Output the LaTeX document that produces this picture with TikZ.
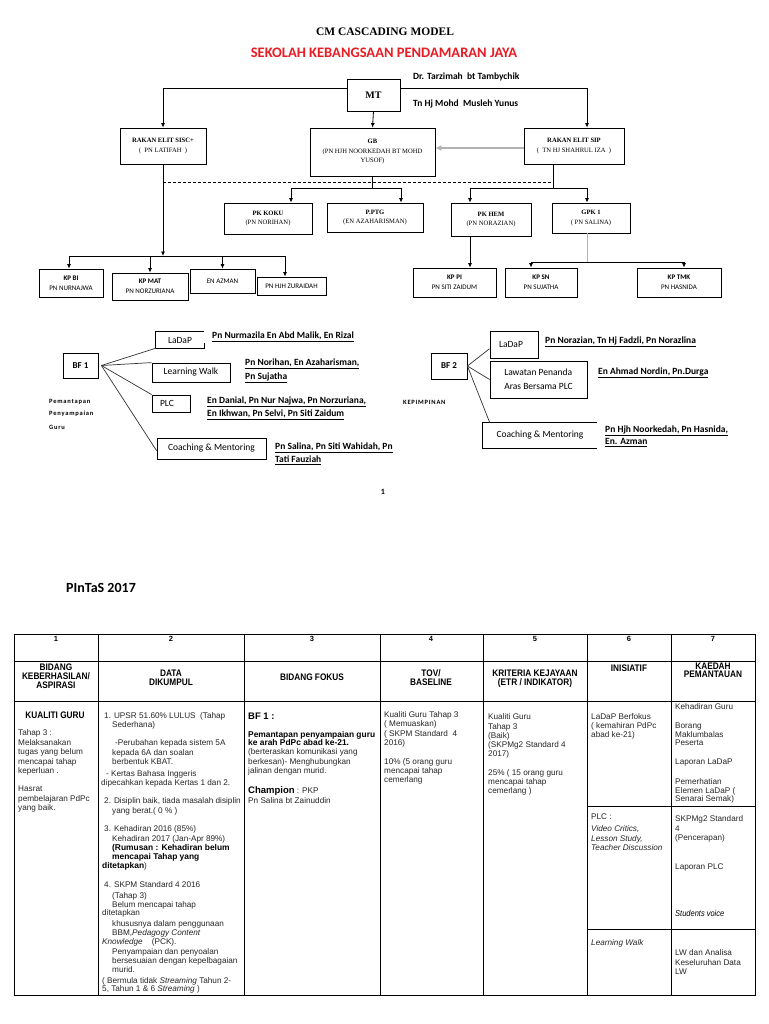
\documentclass[tikz,border=0pt]{standalone}
\usepackage{fontspec}
\setmainfont{Liberation Serif}
\newfontfamily\calib{Carlito}
\newfontfamily\calibsp[LetterSpace=12]{Carlito}
\newfontfamily\arialf{Liberation Sans}
\newfontfamily\arialn[FakeStretch=0.87]{Liberation Sans}
\usetikzlibrary{arrows.meta,calc}
\definecolor{tred}{RGB}{232,28,36}
\newcounter{txc}
\newcommand\tx[4][]{\stepcounter{txc}\node[tline,#1] (tx\arabic{txc}) at (#2,#3) {#4};}
\begin{document}
\begin{tikzpicture}[x=1pt,y=-1pt,
  box/.style={draw,line width=0.8pt,inner sep=1pt,align=center},
  arr/.style={line width=0.8pt,-{Latex[length=4.5pt,width=4pt]}},
  ln/.style={line width=0.8pt},
  fan/.style={line width=0.7pt,black!80},
  tline/.style={anchor=base west,inner sep=0pt,yshift=-2.5pt},
  ctext/.style={inner sep=0pt,align=center},
  tsz/.style={font=\fontsize{6.6}{9.5}\selectfont},
  kpf/.style={font=\calib\fontsize{7}{10}\selectfont},
  bfl/.style={font=\calib\fontsize{9.5}{14}\selectfont},
  nmf/.style={font=\calib\bfseries\fontsize{9.5}{11}\selectfont},
  smf/.style={font=\calibsp\bfseries\fontsize{6.5}{8}\selectfont},
  bodyt/.style={font=\arialf\fontsize{8.2}{9.3}\selectfont,text=black!85},
  bb/.style={font=\arialf\bfseries\fontsize{8.4}{9}\selectfont,text=black},
  hdr/.style={ctext,font=\arialn\bfseries\fontsize{9.5}{9.2}\selectfont},
  num/.style={ctext,font=\arialf\bfseries\fontsize{7.5}{8}\selectfont},
  tbl/.style={line width=0.9pt}]
\fill[white] (0,0) rectangle (768,1024);
\useasboundingbox (0,0) rectangle (768,1024);

% ---------- titles ----------
\node[ctext,font=\bfseries\fontsize{11.5}{13}\selectfont] (title) at (385,32) {CM CASCADING MODEL};
\node[ctext,font=\calib\bfseries\fontsize{14.5}{16}\selectfont,text=tred] (school) at (384,53) {SEKOLAH KEBANGSAAN PENDAMARAN JAYA};

% ---------- top chart ----------
\node[box,minimum width=53,minimum height=32,font=\bfseries\fontsize{10}{12}\selectfont] (mt) at (373.5,95) {MT};
\tx[nmf]{413}{76.7}{Dr. Tarzimah\ \ bt Tambychik}
\tx[nmf]{413}{104}{Tn Hj Mohd\ \ Musleh Yunus}

\node[box,tsz,minimum width=86,minimum height=36] (sisc) at (163,146) {\textbf{RAKAN ELIT SISC+}\\(\ \ PN LATIFAH\ \ )};
\node[box,tsz,minimum width=125,minimum height=48] (gb) at (372.5,152) {\textbf{GB}\\(PN HJH NOORKEDAH BT MOHD\\YUSOF)};
\node[box,tsz,minimum width=100,minimum height=36] (sip) at (574,146) {\textbf{RAKAN ELIT SIP}\\(\ \ TN HJ SHAHRUL IZA\ \ )};

\draw[arr] (mt.west |- 0,88) -| (sisc.north);
\draw[arr] (mt.east |- 0,88) -| ($(sip.north)+(13,0)$);
\draw[arr] (mt.south) -- (gb.north);
\draw[gray!60,line width=2pt,-{Latex[length=6pt,width=6pt]}] (sip.west |- 0,148) -- (gb.east |- 0,148);

\coordinate (b1l) at (291,188); \coordinate (b1r) at (401,188);
\coordinate (b2m) at (553,188); \coordinate (b2l) at (470,188); \coordinate (b2r) at (587,188);
\draw[ln,dash pattern=on 3pt off 2pt] (sisc.south |- 0,182) -- (b2m |- 0,182);
\draw[ln] (gb.south) -- (gb.south |- b1l);
\draw[ln] (b1l) -- (b1r);
\draw[ln] (sip.south -| b2m) -- (b2m);
\draw[ln] (b2l) -- (b2r);

\node[box,tsz,minimum width=88,minimum height=31] (koku) at (268,218.5) {\textbf{PK KOKU}\\(PN NORIHAN)};
\node[box,tsz,minimum width=96,minimum height=29] (ptg) at (375,217.5) {\textbf{P.PTG}\\(EN AZAHARISMAN)};
\node[box,tsz,minimum width=80,minimum height=33] (hem) at (491,219.5) {\textbf{PK HEM}\\(PN NORAZIAN)};
\node[box,tsz,minimum width=78,minimum height=30] (gpk) at (591,218) {\textbf{GPK 1}\\( PN SALINA)};
\draw[arr] (b1l) -- (b1l |- koku.north);
\draw[arr] (b1r) -- (b1r |- ptg.north);
\draw[arr] (b2l) -- (b2l |- hem.north);
\draw[arr] (b2r) -- (b2r |- gpk.north);

\node[box,kpf,minimum width=64,minimum height=28] (kpbi) at (71,283) {\textbf{KP BI}\\PN NURNAJWA};
\node[box,kpf,minimum width=76,minimum height=27] (kpmat) at (150,286.5) {\textbf{KP MAT}\\PN NORZURIANA};
\node[box,kpf,minimum width=65,minimum height=24] (enaz) at (222.5,281) {EN AZMAN};
\node[box,kpf,minimum width=69,minimum height=18] (zur) at (291.5,286) {PN HJH ZURAIDAH};
\node[box,kpf,minimum width=83,minimum height=29] (kppi) at (454.5,282.5) {\textbf{KP PI}\\PN SITI ZAIDUM};
\node[box,kpf,minimum width=72,minimum height=29] (kpsn) at (541,282.5) {\textbf{KP SN}\\PN SUJATHA};
\node[box,kpf,minimum width=84,minimum height=29] (kptmk) at (679,282.5) {\textbf{KP TMK}\\PN HASNIDA};

\coordinate (b3l) at (531,262); \coordinate (b3r) at (684,262);
\draw[gray!60,line width=0.6pt] (gpk.south -| b2r) -- (b2r |- b3l);
\draw[ln] (b3l) -- (b3r);
\draw[arr] (b3l) -- (b3l |- kpsn.north);
\draw[arr] (b3r) -- (b3r |- kptmk.north);
\draw[arr] (hem.south -| b2l) -- (b2l |- kppi.north);

\coordinate (b4l) at (69,256); \coordinate (b4r) at (285,256);
\draw[arr] (sisc.south) -- (sisc.south |- b4l);
\draw[ln] (b4l) -- (b4r);
\draw[arr] (b4l) -- (b4l |- kpbi.north);
\draw[arr] (kpmat.north |- b4l) -- (kpmat.north);
\draw[arr] (enaz.north |- b4l) -- (enaz.north);
\draw[arr] (b4r) -- (b4r |- zur.north);

% ---------- BF 1 ----------
\node[box,font=\calib\bfseries\fontsize{9}{10}\selectfont,minimum width=35,minimum height=25] (bf1) at (80.5,365.5) {BF 1};
\node[bfl,inner sep=0pt,minimum width=48,minimum height=16] (ladap1) at (180,340) {LaDaP};
\draw[ln] (ladap1.north east) -- (ladap1.north west) -- (ladap1.south west) -- (ladap1.south east) -- ++(0,-5);
\node[box,bfl,minimum width=78,minimum height=19] (lw1) at (191,372.5) {Learning Walk};
\node[box,bfl,minimum width=38,minimum height=17] (plc1) at (171,403.5) {PLC\hspace{8pt}};
\node[box,bfl,minimum width=109,minimum height=21] (cm1) at (211.5,448.5) {Coaching \& Mentoring};
\coordinate (bf1o) at ($(bf1.east)+(3,0)$);
\draw[fan] (bf1o) -- (ladap1.south west);
\draw[fan] (bf1o) -- (lw1.north west);
\draw[fan] (bf1o) -- (plc1.north west);
\draw[fan] (bf1o) -- ($(cm1.south west)!0.4!(cm1.north west)$);
\tx[nmf]{212}{336}{\underline{Pn Nurmazila En Abd Malik, En Rizal}}
\tx[nmf]{245}{363}{\underline{Pn Norihan, En Azaharisman,}}
\tx[nmf]{245}{377}{\underline{Pn Sujatha}}
\tx[nmf]{207}{401}{\underline{En Danial, Pn Nur Najwa, Pn Norzuriana,}}
\tx[nmf]{207}{414}{\underline{En Ikhwan, Pn Selvi, Pn Siti Zaidum}}
\tx[nmf]{275}{447}{\underline{Pn Salina, Pn Siti Wahidah, Pn}}
\tx[nmf]{275}{460}{\underline{Tati Fauziah}}
\tx[smf]{49}{401}{Pemantapan}
\tx[smf]{49}{413}{Penyampaian}
\tx[smf]{49}{427}{Guru}

% ---------- BF 2 ----------
\node[box,font=\calib\bfseries\fontsize{9}{10}\selectfont,minimum width=36,minimum height=26] (bf2) at (449,366) {BF 2};
\node[box,bfl,minimum width=48,minimum height=27] (ladap2) at (514,344.5) {LaDaP\hspace{6pt}};
\node[box,bfl,align=left,minimum width=97,minimum height=37] (law2) at (538.5,379.5) {Lawatan Penanda\\Aras Bersama PLC};
\node[bfl,inner sep=0pt,minimum width=114,minimum height=25] (cm2) at (540,435.5) {Coaching \& Mentoring\hspace{10pt}};
\draw[ln] (cm2.north east) -- (cm2.north west) -- (cm2.south west) -- (cm2.south east);
\draw[fan] (bf2.east) -- ($(ladap2.south west)!0.35!(ladap2.north west)$);
\draw[fan] (bf2.east) -- (law2.west);
\draw[fan] (bf2.east) -- ($(cm2.north west)+(7,0)$);
\tx[nmf]{545}{341}{\underline{Pn Norazian, Tn Hj Fadzli, Pn Norazlina}}
\tx[nmf]{598}{372}{\underline{En Ahmad Nordin, Pn.Durga}}
\tx[nmf]{605}{429.5}{\underline{Pn Hjh Noorkedah, Pn Hasnida,}}
\tx[nmf]{605}{442}{\underline{En. Azman}}
\tx[smf]{403}{401.6}{KEPIMPINAN}

% ---------- page number & PInTaS ----------
\node[ctext,font=\calib\bfseries\fontsize{8}{9}\selectfont] (pg) at (383,492) {1};
\tx[font=\calib\bfseries\fontsize{14}{16}\selectfont]{66}{590}{PInTaS 2017}

% ---------- table grid ----------
\draw[tbl] (14,634) rectangle (755,995);
\foreach \cx in {98,244,380,483,587,671} \draw[tbl] (\cx,634) -- (\cx,995);
\draw[tbl] (14,661) -- (755,661);
\draw[tbl] (14,701) -- (755,701);
\draw[tbl] (587,806) -- (755,806);
\draw[tbl] (587,929) -- (755,929);

\node[num] (n1) at (56,639) {1};
\node[num] (n2) at (171,639) {2};
\node[num] (n3) at (312,639) {3};
\node[num] (n4) at (431,639) {4};
\node[num] (n5) at (535,639) {5};
\node[num] (n6) at (629,639) {6};
\node[num] (n7) at (713,639) {7};

\node[hdr] (h1) at (56,676) {BIDANG\\KEBERHASILAN/\\ASPIRASI};
\node[hdr] (h2) at (171,677.5) {DATA\\DIKUMPUL};
\node[hdr] (h3) at (312,677.7) {BIDANG FOKUS};
\node[hdr] (h4) at (431,677.5) {TOV/\\BASELINE};
\node[hdr] (h5) at (535,679) {KRITERIA KEJAYAAN\\(ETR / INDIKATOR)};
\node[hdr] (h6) at (629,668) {INISIATIF};
\node[hdr,font=\arialn\bfseries\fontsize{9.5}{8}\selectfont] (h7) at (713,670.5) {KAEDAH\\PEMANTAUAN};

% column 1
\node[ctext,font=\arialn\bfseries\fontsize{9.5}{10}\selectfont] (kg) at (55,715) {KUALITI GURU};
\tx[bodyt]{18}{733}{Tahap 3 :}
\tx[bodyt]{18}{742.7}{Melaksanakan}
\tx[bodyt]{18}{752}{tugas yang belum}
\tx[bodyt]{18}{762}{mencapai tahap}
\tx[bodyt]{18}{771}{keperluan .}
\tx[bodyt]{18}{789}{Hasrat}
\tx[bodyt]{18}{798.7}{pembelajaran PdPc}
\tx[bodyt]{18}{808}{yang baik.}

% column 2
\tx[bodyt]{104}{716}{1. UPSR 51.60\% LULUS\ \ (Tahap}
\tx[bodyt]{112}{725}{Sederhana)}
\tx[bodyt]{115}{743}{-Perubahan kepada sistem 5A}
\tx[bodyt]{112}{752.7}{kepada 6A dan soalan}
\tx[bodyt]{112}{762}{berbentuk KBAT.}
\tx[bodyt]{106}{774}{- Kertas Bahasa Inggeris}
\tx[bodyt]{101}{783}{dipecahkan kepada Kertas 1 dan 2.}
\tx[bodyt]{104}{800.7}{2. Disiplin baik, tiada masalah disiplin}
\tx[bodyt]{112}{810.7}{yang berat.( 0 \% )}
\tx[bodyt]{104}{829}{3. Kehadiran 2016 (85\%)}
\tx[bodyt]{112}{839}{Kehadiran 2017 (Jan-Apr 89\%)}
\tx[bb]{112}{847.7}{(Rumusan : Kehadiran belum}
\tx[bb]{112}{856.7}{mencapai Tahap yang}
\tx[bodyt]{102}{865.7}{{\bfseries\fontsize{8.4}{9}\selectfont\color{black}ditetapkan})}
\tx[bodyt]{104}{885}{4. SKPM Standard 4 2016}
\tx[bodyt]{112}{896}{(Tahap 3)}
\tx[bodyt]{112}{904.7}{Belum mencapai tahap}
\tx[bodyt]{102}{913}{ditetapkan}
\tx[bodyt]{112}{924}{khususnya dalam penggunaan}
\tx[bodyt]{112}{932.7}{BBM,\textit{Pedagogy Content}}
\tx[bodyt]{102}{941.7}{\textit{Knowledge}\ \ \ \ (PCK).}
\tx[bodyt]{112}{952}{Penyampaian dan penyoalan}
\tx[bodyt]{112}{961}{bersesuaian dengan kepelbagaian}
\tx[bodyt]{112}{970}{murid.}
\tx[bodyt]{102}{980.7}{( Bermula tidak \textit{Streaming} Tahun 2-}
\tx[bodyt]{102}{989}{5, Tahun 1 \& 6 \textit{Streaming} )}

% column 3
\tx[bb,font=\arialf\bfseries\fontsize{9.5}{10}\selectfont]{248}{717}{BF 1 :}
\tx[bb]{248}{735}{Pemantapan penyampaian guru}
\tx[bb]{248}{742.7}{ke arah PdPc abad ke-21.}
\tx[bodyt]{248}{751.7}{(berteraskan komunikasi yang}
\tx[bodyt]{248}{761.7}{berkesan)- Menghubungkan}
\tx[bodyt]{248}{771}{jalinan dengan murid.}
\tx[bodyt]{248}{790.7}{{\bfseries\fontsize{9.5}{10}\selectfont\color{black}Champion} : PKP}
\tx[bodyt]{248}{800.7}{Pn Salina bt Zainuddin}

% column 4
\tx[bodyt]{384}{715}{Kualiti Guru Tahap 3}
\tx[bodyt]{384}{724}{( Memuaskan)}
\tx[bodyt]{384}{733.7}{( SKPM Standard\ \ 4}
\tx[bodyt]{384}{742.7}{2016)}
\tx[bodyt]{384}{761.7}{10\% (5 orang guru}
\tx[bodyt]{384}{771}{mencapai tahap}
\tx[bodyt]{384}{780}{cemerlang}

% column 5
\tx[bodyt]{488}{717}{Kualiti Guru}
\tx[bodyt]{488}{726.7}{Tahap 3}
\tx[bodyt]{488}{736}{(Baik)}
\tx[bodyt]{488}{745}{(SKPMg2 Standard 4}
\tx[bodyt]{488}{754}{2017)}
\tx[bodyt]{488}{772.7}{25\% ( 15 orang guru}
\tx[bodyt]{488}{781.7}{mencapai tahap}
\tx[bodyt]{488}{791}{cemerlang )}

% column 6
\tx[bodyt]{591}{717}{LaDaP Berfokus}
\tx[bodyt]{591}{726}{( kemahiran PdPc}
\tx[bodyt]{591}{735}{abad ke-21)}
\tx[bodyt]{591}{817}{PLC :}
\tx[bodyt]{591}{829}{\textit{Video Critics,}}
\tx[bodyt]{591}{838.7}{\textit{Lesson Study,}}
\tx[bodyt]{591}{848}{\textit{Teacher Discussion}}
\tx[bodyt]{591}{943}{\textit{Learning Walk}}

% column 7
\tx[bodyt]{675}{707}{Kehadiran Guru}
\tx[bodyt]{675}{726}{Borang}
\tx[bodyt]{675}{735}{Maklumbalas}
\tx[bodyt]{675}{743}{Peserta}
\tx[bodyt]{675}{762}{Laporan LaDaP}
\tx[bodyt]{675}{781.7}{Pemerhatian}
\tx[bodyt]{675}{790.7}{Elemen LaDaP (}
\tx[bodyt]{675}{799}{Senarai Semak)}
\tx[bodyt]{675}{819}{SKPMg2 Standard}
\tx[bodyt]{675}{829}{4}
\tx[bodyt]{675}{838}{(Pencerapan)}
\tx[bodyt]{675}{866.7}{Laporan PLC}
\tx[bodyt,font=\arialn\itshape\fontsize{8.6}{9}\selectfont,text=black]{675}{914}{Students voice}
\tx[bodyt]{675}{953}{LW dan Analisa}
\tx[bodyt]{675}{962.7}{Keseluruhan Data}
\tx[bodyt]{675}{971.7}{LW}
\end{tikzpicture}
\end{document}
